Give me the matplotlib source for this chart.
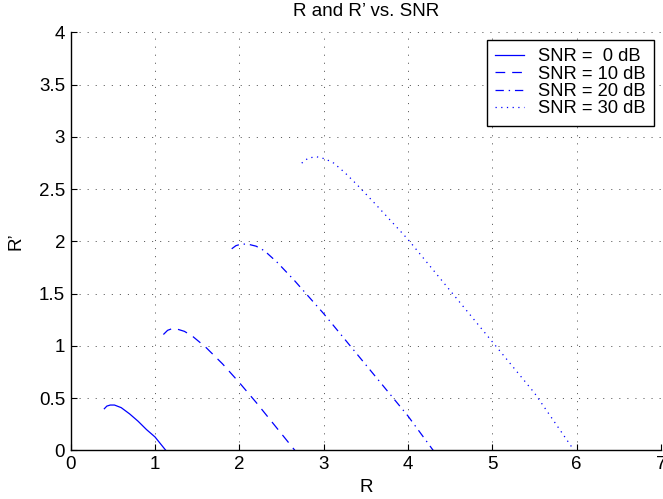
import numpy as np
import matplotlib
matplotlib.use("Agg")
import matplotlib.pyplot as plt
from matplotlib.ticker import FormatStrFormatter


############################################################
# Data
############################################################

snr_labels = ["SNR =  0 dB", "SNR = 10 dB", "SNR = 20 dB", "SNR = 30 dB"]

r_0db = [0.40, 0.43, 0.47, 0.52, 0.60, 0.70, 0.80, 0.90, 1.00, 1.13]
rp_0db = [0.40, 0.425, 0.435, 0.435, 0.41, 0.35, 0.28, 0.20, 0.13, 0.0]

r_10db = [1.10, 1.15, 1.20, 1.27, 1.35, 1.45, 1.60, 1.80, 2.00, 2.20, 2.40, 2.66]
rp_10db = [1.11, 1.15, 1.165, 1.16, 1.14, 1.09, 0.99, 0.83, 0.65, 0.46, 0.26, 0.0]

r_20db = [1.91, 1.96, 2.02, 2.10, 2.20, 2.30, 2.45, 2.65, 3.00, 3.50, 4.00, 4.30]
rp_20db = [1.93, 1.96, 1.975, 1.975, 1.955, 1.91, 1.80, 1.63, 1.31, 0.82, 0.33, 0.0]

r_30db = [2.74, 2.82, 2.92, 3.02, 3.12, 3.25, 3.40, 3.60, 4.00, 4.50, 5.00, 5.50, 5.97]
rp_30db = [2.75, 2.80, 2.81, 2.79, 2.75, 2.66, 2.54, 2.37, 2.02, 1.53, 1.04, 0.55, 0.0]

x_ticks = [0, 1, 2, 3, 4, 5, 6, 7]
y_ticks = [0, 0.5, 1, 1.5, 2, 2.5, 3, 3.5, 4]


def main():

    plt.rcParams["font.family"] = ["Liberation Sans", "DejaVu Sans"]
    plt.rcParams["lines.scale_dashes"] = False

    fig = plt.figure(figsize=(6.63, 4.99), dpi=100)

    ax = fig.add_axes([0.1065, 0.0972, 0.8905, 0.8377])

    ############################################################
    # Curves
    ############################################################

    curves = [
        (r_0db, rp_0db, "-", None),
        (r_10db, rp_10db, "--", (7.0, 5.0)),
        (r_20db, rp_20db, "-.", (6.0, 3.5, 1.0, 3.5)),
        (r_30db, rp_30db, ":", (0.9, 3.2)),
    ]

    for (x, y, ls, dashes), label in zip(curves, snr_labels):

        kwargs = dict(color="#0000ff", linewidth=0.9, label=label)

        if dashes is None:
            ax.plot(x, y, linestyle=ls, **kwargs)
        else:
            ax.plot(x, y, dashes=dashes, **kwargs)

    ############################################################
    # Axes styling
    ############################################################

    ax.set_xlim(0, 7)
    ax.set_ylim(0, 4)

    ax.set_xticks(x_ticks)
    ax.set_yticks(y_ticks)
    ax.yaxis.set_major_formatter(FormatStrFormatter("%g"))

    ax.grid(True, color="#444444", linewidth=0.6, dashes=(0.8, 5.0))

    for side in ["top", "right"]:
        ax.spines[side].set_visible(False)

    for side in ["left", "bottom"]:
        ax.spines[side].set_linewidth(1.0)
        ax.spines[side].set_color("black")

    ax.tick_params(direction="in", length=4, width=0.8, labelsize=13.5, pad=4)

    ax.set_xlabel("R", fontsize=13.5, labelpad=4)
    ax.set_ylabel("R\u2019", fontsize=13.5, labelpad=10)
    ax.set_title("R and R\u2019 vs. SNR", fontsize=13.5, pad=12)

    ############################################################
    # Legend
    ############################################################

    leg = ax.legend(
        loc="upper right",
        bbox_to_anchor=(654 / 663, 1 - 40 / 499),
        bbox_transform=fig.transFigure,
        borderaxespad=0,
        fontsize=13.2,
        handlelength=1.6,
        handletextpad=0.75,
        labelspacing=0.02,
        borderpad=0.45,
        fancybox=False,
        framealpha=1,
    )

    leg.get_frame().set_edgecolor("black")
    leg.get_frame().set_linewidth(1.0)

    fig.savefig("out.png", dpi=100)

    plt.close(fig)


if __name__ == "__main__":
    main()
